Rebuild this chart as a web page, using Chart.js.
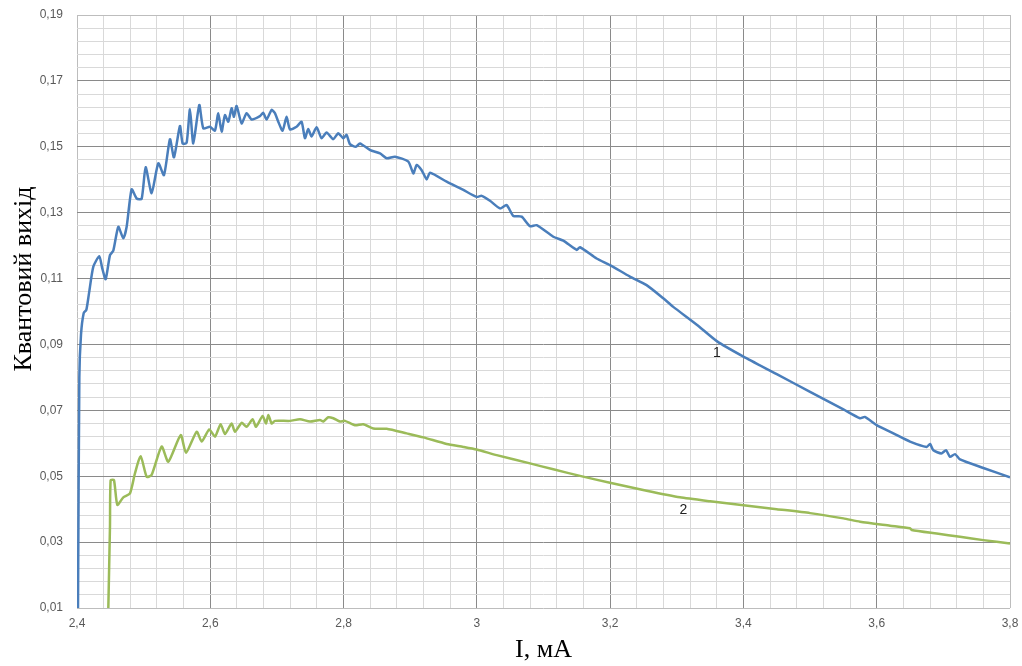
<!DOCTYPE html>
<html>
<head>
<meta charset="utf-8">
<script src="https://cdn.jsdelivr.net/npm/chart.js@4.4.1/dist/chart.umd.min.js"></script>
<style>
  html, body { margin: 0; padding: 0; background: #fff; }
  #wrap { width: 1022px; height: 666px; }
</style>
</head>
<body>
<div id="wrap"><canvas id="chart" width="1022" height="666"></canvas></div>
<script>
// Curve 1 (blue) - quantum yield vs current
const curve1X = [
  2.4015, 2.4035, 2.4060, 2.4100, 2.4140, 2.4180, 2.4245, 2.4335, 2.4380, 2.4430,
  2.4495, 2.4545, 2.4620, 2.4695, 2.4745, 2.4820, 2.4895, 2.4970, 2.5030, 2.5120,
  2.5220, 2.5305, 2.5395, 2.5455, 2.5545, 2.5585, 2.5645, 2.5695, 2.5745, 2.5835,
  2.5895, 2.5995, 2.6070, 2.6120, 2.6170, 2.6220, 2.6270, 2.6320, 2.6355, 2.6395,
  2.6470, 2.6545, 2.6620, 2.6745, 2.6795, 2.6845, 2.6920, 2.6970, 2.7020, 2.7085,
  2.7145, 2.7195, 2.7295, 2.7370, 2.7420, 2.7470, 2.7520, 2.7595, 2.7670, 2.7745,
  2.7845, 2.7920, 2.7995, 2.8045, 2.8095, 2.8185, 2.8245, 2.8400, 2.8547, 2.8647,
  2.8772, 2.8972, 2.9047, 2.9097, 2.9172, 2.9247, 2.9297, 2.9547, 2.9797, 2.9997,
  3.0072, 3.0197, 3.0347, 3.0447, 3.0547, 3.0672, 3.0797, 3.0897, 3.1147, 3.1297,
  3.1497, 3.1547, 3.1797, 3.1997, 3.2297, 3.2547, 3.2797, 3.2947, 3.3300, 3.3600,
  3.4000, 3.4500, 3.5000, 3.5500, 3.5750, 3.5820, 3.6000, 3.6250, 3.6500, 3.6750,
  3.6800, 3.6850, 3.6970, 3.7040, 3.7100, 3.7175, 3.7250, 3.7600, 3.8000
];
const curve1Y = [
  0.0100, 0.0800, 0.0930, 0.0995, 0.1005, 0.1055, 0.1136, 0.1168, 0.1130, 0.1098,
  0.1171, 0.1185, 0.1257, 0.1222, 0.1257, 0.1371, 0.1343, 0.1342, 0.1438, 0.1359,
  0.1450, 0.1414, 0.1523, 0.1468, 0.1563, 0.1510, 0.1512, 0.1614, 0.1510, 0.1627,
  0.1556, 0.1561, 0.1549, 0.1602, 0.1546, 0.1596, 0.1576, 0.1617, 0.1591, 0.1624,
  0.1571, 0.1602, 0.1583, 0.1593, 0.1603, 0.1583, 0.1612, 0.1602, 0.1576, 0.1549,
  0.1591, 0.1553, 0.1561, 0.1576, 0.1526, 0.1554, 0.1531, 0.1559, 0.1526, 0.1543,
  0.1523, 0.1541, 0.1526, 0.1536, 0.1508, 0.1500, 0.1510, 0.1490, 0.1480, 0.1465,
  0.1470, 0.1455, 0.1419, 0.1445, 0.1429, 0.1401, 0.1421, 0.1394, 0.1369, 0.1348,
  0.1351, 0.1336, 0.1313, 0.1323, 0.1290, 0.1288, 0.1259, 0.1262, 0.1227, 0.1215,
  0.1187, 0.1195, 0.1161, 0.1141, 0.1106, 0.1080, 0.1040, 0.1014, 0.0960, 0.0910,
  0.0863, 0.0810, 0.0756, 0.0703, 0.0676, 0.0680, 0.0655, 0.0630, 0.0605, 0.0589,
  0.0598, 0.0579, 0.0569, 0.0579, 0.0559, 0.0567, 0.0551, 0.0525, 0.0497
];

// Curve 2 (green)
const curve2X = [
  2.4470, 2.4495, 2.4505, 2.4555, 2.4605, 2.4695, 2.4795, 2.4870, 2.4955, 2.5046,
  2.5120, 2.5270, 2.5370, 2.5556, 2.5636, 2.5796, 2.5871, 2.5985, 2.6070, 2.6156,
  2.6220, 2.6321, 2.6370, 2.6471, 2.6545, 2.6636, 2.6686, 2.6786, 2.6836, 2.6871,
  2.6920, 2.6970, 2.7196, 2.7346, 2.7496, 2.7646, 2.7696, 2.7770, 2.7846, 2.7946,
  2.8020, 2.8171, 2.8296, 2.8446, 2.8647, 2.8947, 2.9197, 2.9547, 2.9797, 2.9997,
  3.0297, 3.0797, 3.1147, 3.1547, 3.1997, 3.2547, 3.3047, 3.3500, 3.4000, 3.4500,
  3.5000, 3.5500, 3.5750, 3.6200, 3.6500, 3.6524, 3.6900, 3.7250, 3.7600, 3.8000
];
const curve2Y = [
  0.0100, 0.0350, 0.0488, 0.0488, 0.0413, 0.0436, 0.0448, 0.0509, 0.0561, 0.0498,
  0.0504, 0.0590, 0.0544, 0.0625, 0.0571, 0.0635, 0.0605, 0.0642, 0.0620, 0.0658,
  0.0628, 0.0660, 0.0635, 0.0662, 0.0650, 0.0673, 0.0650, 0.0683, 0.0660, 0.0686,
  0.0660, 0.0668, 0.0668, 0.0673, 0.0666, 0.0671, 0.0666, 0.0679, 0.0676, 0.0666,
  0.0668, 0.0655, 0.0658, 0.0645, 0.0644, 0.0630, 0.0618, 0.0598, 0.0589, 0.0581,
  0.0564, 0.0539, 0.0521, 0.0501, 0.0480, 0.0456, 0.0436, 0.0424, 0.0412, 0.0400,
  0.0388, 0.0372, 0.0362, 0.0350, 0.0342, 0.0337, 0.0326, 0.0316, 0.0306, 0.0296
];

// curve number labels placed in data coordinates
const curveNames = ['1', '2'];
const curveNameX = [3.36, 3.31];
const curveNameY = [0.0875, 0.0397];

const X_MIN = 2.4, X_MAX = 3.8, X_STEP = 0.04;   // major every 0.2
const Y_MIN = 0.01, Y_MAX = 0.19, Y_STEP = 0.004; // major every 0.02

const MAJOR = '#8a8a8a', MINOR = '#d9d9d9', EDGE = '#bdbdbd';

function pts(xs, ys) {
  const n = Math.min(xs.length, ys.length);
  const out = [];
  for (let i = 0; i < n; i++) out.push({ x: xs[i], y: ys[i] });
  return out;
}

function gridColor(ctx) {
  const n = ctx.scale.ticks.length - 1;
  if (ctx.index === 0 || ctx.index === n) return EDGE;
  return ctx.index % 5 === 0 ? MAJOR : MINOR;
}

const fmtX = v => String(Number(v.toFixed(1))).replace('.', ',');
const fmtY = v => v.toFixed(2).replace('.', ',');

// y title and curve numbers
const extras = {
  id: 'extras',
  afterDraw(chart) {
    const c = chart.ctx, xs = chart.scales.x, ys = chart.scales.y;
    c.save();
    c.fillStyle = '#000';
    c.font = '26px "Liberation Serif"';
    c.textAlign = 'center';
    c.textBaseline = 'middle';
    c.translate(24, 279);
    c.rotate(-Math.PI / 2);
    c.fillText('Квантовий вихід', 0, 0);
    c.restore();

    c.save();
    c.fillStyle = '#222';
    c.font = '14px "Liberation Sans"';
    c.textAlign = 'center';
    c.textBaseline = 'middle';
    curveNames.forEach((t, i) => {
      c.fillText(t, xs.getPixelForValue(curveNameX[i]), ys.getPixelForValue(curveNameY[i]));
    });
    c.restore();
  }
};

new Chart(document.getElementById('chart'), {
  type: 'line',
  data: {
    datasets: [
      { label: '1', data: pts(curve1X, curve1Y), borderColor: '#4a7ebb', borderWidth: 2.5, pointRadius: 0, tension: 0.2 },
      { label: '2', data: pts(curve2X, curve2Y), borderColor: '#9bbb59', borderWidth: 2.5, pointRadius: 0, tension: 0.2 }
    ]
  },
  options: {
    responsive: false,
    animation: false,
    layout: { padding: { left: 0, top: 15, right: 12, bottom: 0 } },
    plugins: { legend: { display: false }, tooltip: { enabled: false } },
    scales: {
      x: {
        type: 'linear', min: X_MIN, max: X_MAX,
        grid: { color: gridColor, drawTicks: false, lineWidth: 1 },
        border: { display: false },
        ticks: {
          stepSize: X_STEP, autoSkip: false, maxRotation: 0, padding: 8,
          color: '#595959', font: { family: 'Liberation Sans', size: 12 },
          callback: (v, i) => i % 5 === 0 ? fmtX(v) : ''
        },
        title: { display: true, text: 'I, мА', color: '#000', font: { family: 'Liberation Serif', size: 26 }, padding: 0 },
        afterFit: s => { s.height = 58; s.paddingLeft = 0; s.paddingRight = 0; }
      },
      y: {
        min: Y_MIN, max: Y_MAX,
        grid: { color: gridColor, drawTicks: false, lineWidth: 1 },
        border: { display: false },
        ticks: {
          stepSize: Y_STEP, autoSkip: false, padding: 14,
          color: '#595959', font: { family: 'Liberation Sans', size: 12 },
          callback: (v, i) => i % 5 === 0 ? fmtY(v) : ''
        },
        afterFit: s => { s.width = 77; s.paddingTop = 0; s.paddingBottom = 0; }
      }
    }
  },
  plugins: [extras]
});
</script>
</body>
</html>
